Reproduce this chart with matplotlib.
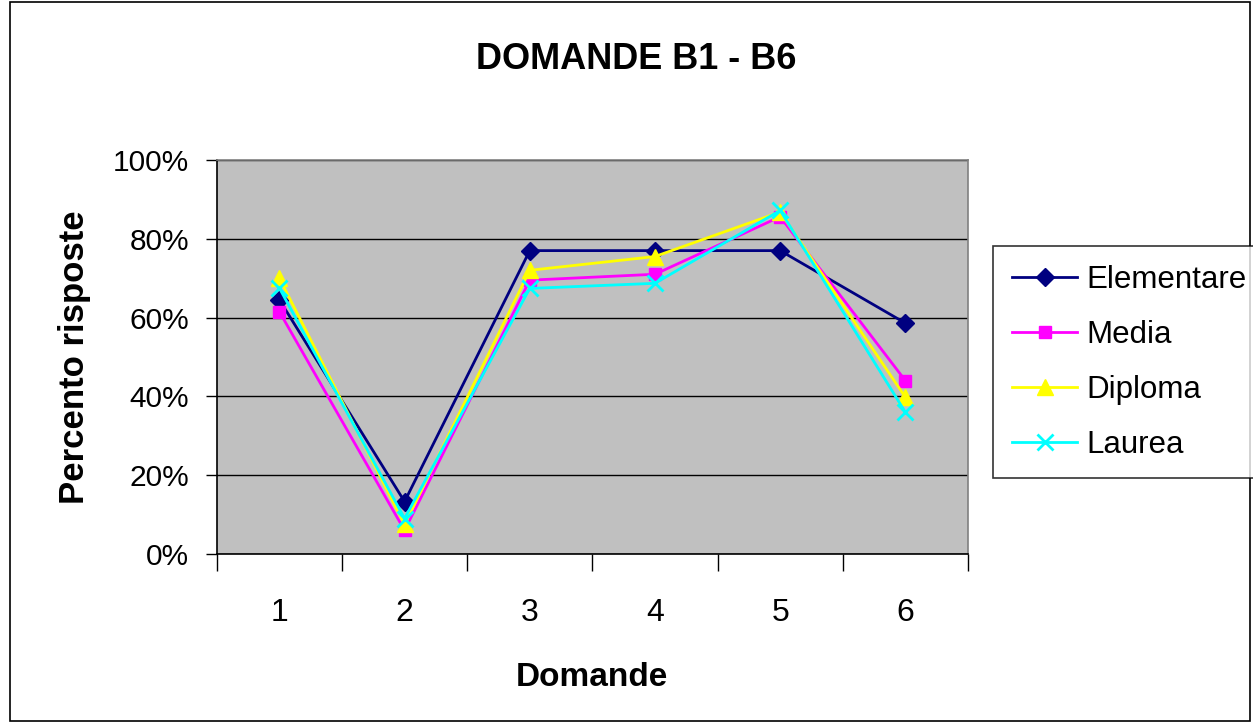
import matplotlib.pyplot as plt
from matplotlib.patches import Rectangle
from matplotlib.ticker import FixedLocator, PercentFormatter

plt.rcParams["font.family"] = ["Liberation Sans", "DejaVu Sans"]

domande = [1, 2, 3, 4, 5, 6]
elementare = [64.5, 13.3, 77.0, 77.0, 77.0, 58.6]
media = [61.5, 6.0, 69.5, 71.0, 85.6, 44.0]
diploma = [70.0, 7.5, 72.0, 75.5, 86.8, 39.8]
laurea = [67.5, 9.0, 67.4, 68.7, 87.2, 36.0]

series = [
    ("Elementare", elementare, "#000080", "D", 9),
    ("Media", media, "#FF00FF", "s", 9),
    ("Diploma", diploma, "#FFFF00", "^", 11),
    ("Laurea", laurea, "#00FFFF", "x", 11),
]

fig = plt.figure(figsize=(12.53, 7.22), dpi=100)
fig.patches.append(Rectangle((0.008, 0.002), 0.99, 0.995, transform=fig.transFigure,
                             fill=False, edgecolor="black", linewidth=1.2))
ax = fig.add_axes([0.173, 0.2327, 0.5995, 0.5457])
ax.set_facecolor("#C0C0C0")

for name, vals, color, marker, ms in series:
    ax.plot(domande, vals, color=color, marker=marker, markersize=ms, linewidth=2,
            markeredgewidth=2 if marker == "x" else 1, label=name, clip_on=False)

ax.set_xlim(0.5, 6.5)
ax.set_ylim(0, 100)
ax.yaxis.set_major_locator(FixedLocator([0, 20, 40, 60, 80, 100]))
ax.yaxis.set_major_formatter(PercentFormatter(decimals=0))
ax.xaxis.set_major_locator(FixedLocator([0.5, 1.5, 2.5, 3.5, 4.5, 5.5, 6.5]))
ax.xaxis.set_major_formatter(plt.NullFormatter())
ax.xaxis.set_minor_locator(FixedLocator(domande))
ax.set_xticklabels([str(d) for d in domande], minor=True)
ax.tick_params(axis="x", which="major", length=12, width=1, direction="out")
ax.tick_params(axis="x", which="minor", length=0, pad=32, labelsize=23)
ax.tick_params(axis="y", length=8, width=1, direction="out", labelsize=21.5, pad=12)
ax.grid(axis="y", color="black", linewidth=1)
for side, spine in ax.spines.items():
    spine.set_color("#808080")
    spine.set_linewidth(1.2)
ax.spines["left"].set_color("black")
ax.spines["bottom"].set_color("black")

fig.text(0.508, 0.917, "DOMANDE B1 - B6", fontsize=26, fontweight="bold",
         ha="center", va="center")
ax.set_xlabel("Domande", fontsize=24, fontweight="bold", labelpad=24)
ax.set_ylabel("Percento risposte", fontsize=25, fontweight="bold", labelpad=16)

leg = fig.legend(loc="upper left", bbox_to_anchor=(0.7925, 0.6593), borderaxespad=0,
                 fontsize=22.5, frameon=True, fancybox=False, edgecolor="black",
                 handlelength=2.1, labelspacing=0.8, borderpad=0.6, handletextpad=0.3)
leg.get_frame().set_linewidth(1.2)

fig.savefig("out.png", dpi=100)
